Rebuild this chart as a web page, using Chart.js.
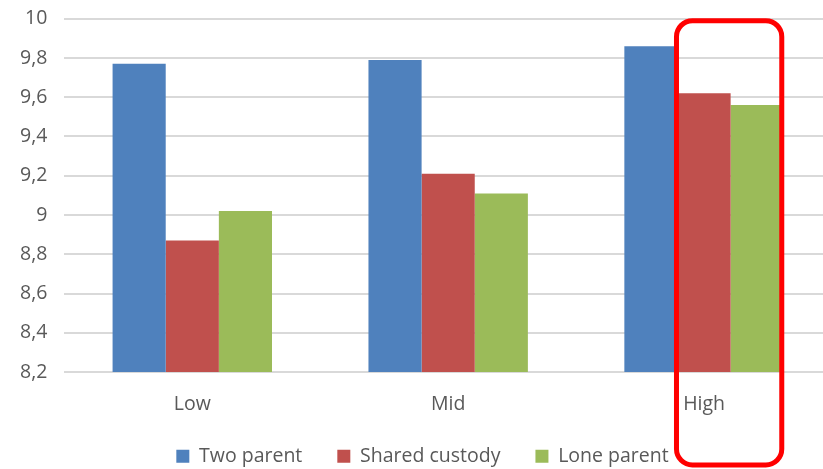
<!DOCTYPE html>
<html>
<head>
<meta charset="utf-8">
<script src="https://cdn.jsdelivr.net/npm/chart.js@4/dist/chart.umd.min.js"></script>
<style>
  html, body { margin: 0; padding: 0; background: #fff; width: 823px; height: 469px; overflow: hidden; }
  /* the plot runs a little past the right edge, as in the reference */
  #wrap { position: absolute; left: 0; top: -10px; width: 832px; height: 479px; }
</style>
</head>
<body>
<div id="wrap"><canvas id="chart"></canvas></div>
<script>
// data
const categories = ["Low", "Mid", "High"];
const twoParent = [9.77, 9.79, 9.86];
const sharedCustody = [8.87, 9.21, 9.62];
const loneParent = [9.02, 9.11, 9.56];
const yMin = 8.2, yMax = 10, yStep = 0.2;

const textColor = "#595959";
const gridColor = "#d9d9d9";
const fontFamily = "'Open Sans', sans-serif";
const legendLift = 18;
const legendShift = 5;

// red rounded box around the High shared / lone bars
const highlightBox = {
  id: "highlightBox",
  afterDraw(chart) {
    const shared = chart.getDatasetMeta(1).data[2];
    const lone = chart.getDatasetMeta(2).data[2];
    if (!shared || !lone) return;
    const ctx = chart.ctx;
    const left = shared.x - shared.width / 2 - 1;
    const right = lone.x + lone.width / 2 - 2;
    const top = chart.chartArea.top + 2;
    const bottom = chart.height - 4;
    ctx.save();
    ctx.strokeStyle = "#ff0000";
    ctx.lineWidth = 5;
    ctx.beginPath();
    ctx.roundRect(left, top, right - left, bottom - top, 16);
    ctx.stroke();
    ctx.restore();
  }
};

// legend sits closer to the axis labels than Chart.js spacing allows
const tightLegend = {
  id: "tightLegend",
  beforeUpdate(chart) {
    const lg = chart.legend;
    if (!lg || lg._tight) return;
    lg._tight = true;
    const fit = lg.fit;
    lg.fit = function () { fit.call(this); this.height -= legendLift; };
    const draw = lg.draw;
    lg.draw = function (area) {
      const box = { top: this.top, left: this.left, right: this.right };
      this.top -= legendLift;
      this.left += legendShift;
      this.right += legendShift;
      draw.call(this, area);
      Object.assign(this, box);
    };
  }
};

new Chart(document.getElementById("chart").getContext("2d"), {
  type: "bar",
  data: {
    labels: categories,
    datasets: [
      { label: "Two parent", data: twoParent, backgroundColor: "#4f81bd" },
      { label: "Shared custody", data: sharedCustody, backgroundColor: "#c0504d" },
      { label: "Lone parent", data: loneParent, backgroundColor: "#9bbb59" }
    ]
  },
  options: {
    responsive: true,
    maintainAspectRatio: false,
    animation: false,
    categoryPercentage: 0.623,
    barPercentage: 1.0,
    layout: { padding: { top: 0, left: 3, right: 0, bottom: -7 } },
    plugins: {
      legend: {
        position: "bottom",
        labels: {
          color: textColor,
          font: { family: fontFamily, size: 19.5 },
          boxWidth: 13,
          boxHeight: 13,
          padding: 35
        }
      },
      tooltip: { enabled: false }
    },
    scales: {
      x: {
        grid: { display: false },
        border: { display: false },
        ticks: {
          color: textColor,
          font: { family: fontFamily, size: 19.5 },
          padding: 13
        }
      },
      y: {
        min: yMin,
        max: yMax,
        grid: { color: gridColor, lineWidth: 2, drawTicks: false },
        border: { display: false },
        ticks: {
          stepSize: yStep,
          color: textColor,
          font: { family: fontFamily, size: 19.5 },
          padding: 17,
          callback: v => String(Math.round(v * 10) / 10).replace(".", ",")
        }
      }
    }
  },
  plugins: [highlightBox, tightLegend]
});
</script>
</body>
</html>
